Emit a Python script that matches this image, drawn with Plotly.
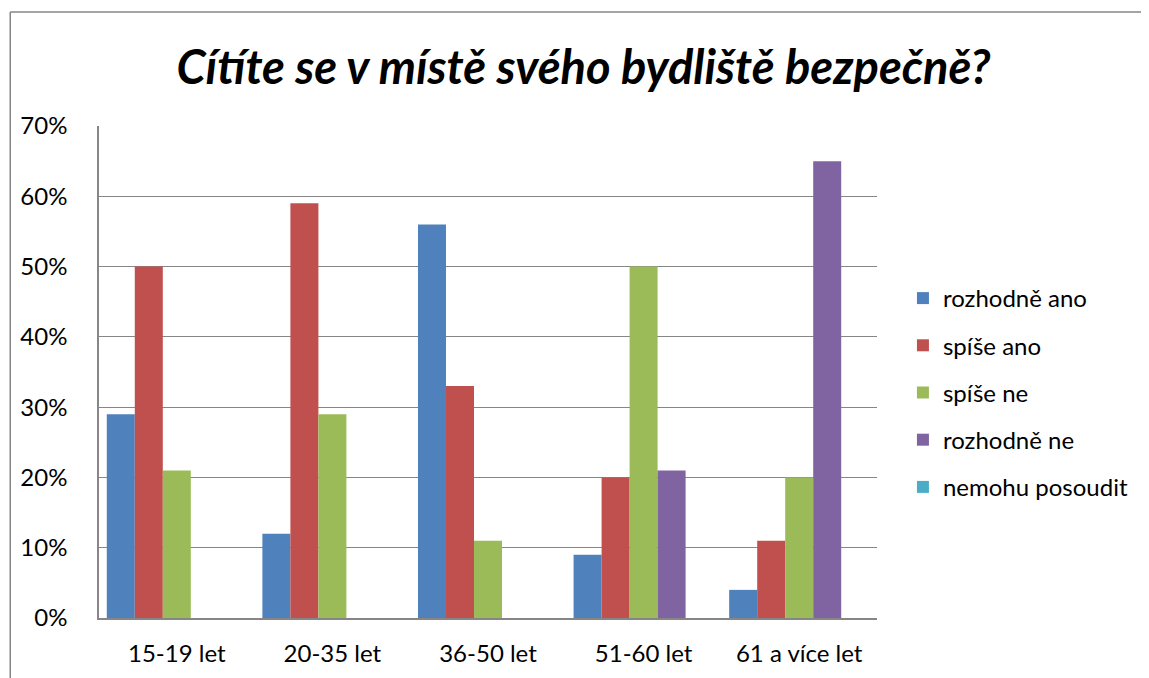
import plotly.graph_objects as go

categories = ["15-19 let", "20-35 let", "36-50 let", "51-60 let", "61 a více let"]
series_names = ["rozhodně ano", "spíše ano", "spíše ne", "rozhodně ne", "nemohu posoudit"]
rozhodne_ano = [0.29, 0.12, 0.56, 0.09, 0.04]
spise_ano = [0.50, 0.59, 0.33, 0.20, 0.11]
spise_ne = [0.21, 0.29, 0.11, 0.50, 0.20]
rozhodne_ne = [0.0, 0.0, 0.0, 0.21, 0.65]
nemohu_posoudit = [0.0, 0.0, 0.0, 0.0, 0.0]
colors = ["#4F81BD", "#C0504D", "#9BBB59", "#8064A2", "#4BACC6"]
yticks = [0, 0.1, 0.2, 0.3, 0.4, 0.5, 0.6, 0.7]
ytick_labels = ["0%", "10%", "20%", "30%", "40%", "50%", "60%", "70%"]

values = [rozhodne_ano, spise_ano, spise_ne, rozhodne_ne, nemohu_posoudit]

FONT = "Lato, Open Sans, sans-serif"

fig = go.Figure()
for name, vals, c in zip(series_names, values, colors):
    fig.add_trace(go.Bar(x=categories, y=vals, name=name, legendgroup=name,
                         marker=dict(color=c, line=dict(width=0))))

# page body has an 8px margin; positions below are in figure coordinates
OFF = 8
W, H = 1149, 678
L, R, T, B = 97 - OFF, 877 - OFF, 126 - OFF, 618 - OFF

def px(x):
    return (x - OFF - L) / (R - L)

def py(y):
    return (B - (y - OFF)) / (B - T)

fig.update_layout(
    width=W, height=H,
    barmode="group", bargap=0.1, bargroupgap=0,
    margin=dict(l=L, r=W - R, t=T, b=H - B, pad=0),
    paper_bgcolor="white", plot_bgcolor="white",
    font=dict(family=FONT, size=24, color="black"),
    title=dict(text="<b><i>Cítíte se v místě svého bydliště bezpečně?</i></b>",
               x=(172 + 995) / 2 / W - OFF / W, xanchor="center", y=1 - (68 - OFF) / H, yanchor="middle",
               font=dict(size=47, family=FONT, color="black")),
    legend=dict(x=px(903), y=py(276), xanchor="left", yanchor="top",
                font=dict(size=24), itemwidth=30, tracegroupgap=13,
                bgcolor="rgba(0,0,0,0)"),
    xaxis=dict(showgrid=False, showline=True, linecolor="#868686", linewidth=1.5,
               ticks="", tickfont=dict(size=24), ticklabelstandoff=13),
    yaxis=dict(range=[0, 0.7], tickvals=yticks, ticktext=ytick_labels,
               showgrid=True, gridcolor="#868686", gridwidth=1.3,
               showline=True, linecolor="#868686", linewidth=1.5,
               ticks="", tickfont=dict(size=24), zeroline=False,
               ticklabelstandoff=25),
    showlegend=True,
)

# chart outer border (left and top)
fig.add_shape(type="line", xref="paper", yref="paper",
              x0=px(8), x1=px(8), y0=py(12), y1=py(720),
              line=dict(color="#868686", width=1.5))
fig.add_shape(type="line", xref="paper", yref="paper",
              x0=px(8), x1=px(1200), y0=py(12), y1=py(12),
              line=dict(color="#868686", width=1.5))

fig.write_html("out.html")
